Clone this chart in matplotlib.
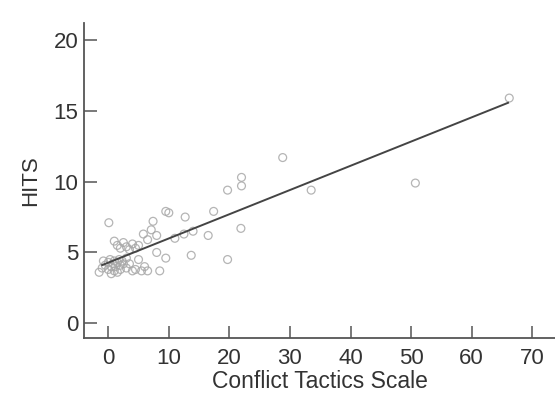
import matplotlib
matplotlib.use("Agg")
import matplotlib.pyplot as plt
import numpy as np

# Data
cts = [-1.5, -1, -0.5, 0, 0, 0.3, 0.5, 0.8, 1, 1, 1.2, 1.5, 1.8, 2, 2, 2.3, 2.5, 0.5, 1.5, -0.8,
       3, 3.5, 4, 4.5, 5.5, 6, 6.5, 8.5, 3, 5,
       1, 1.5, 2, 2.5, 3, 3.5, 4, 4.5, 5,
       0.1, 5.8, 7.1, 7.4, 8, 9.5, 10, 12.7, 12.5, 11, 14, 16.5, 17.4, 21.9, 13.7, 9.5, 19.7,
       19.7, 22, 22, 28.8, 33.5, 50.7, 66.2, 6.5, 8]
hits = [3.6, 3.9, 4.1, 4.3, 3.8, 4.5, 4.0, 4.2, 4.4, 3.7, 4.0, 4.3, 4.5, 4.1, 3.8, 4.4, 4.2, 3.5, 3.6, 4.4,
        3.9, 4.2, 3.7, 3.8, 3.7, 4.0, 3.7, 3.7, 4.6, 4.5,
        5.8, 5.5, 5.3, 5.7, 5.4, 5.2, 5.6, 5.3, 5.5,
        7.1, 6.3, 6.6, 7.2, 6.2, 7.9, 7.8, 7.5, 6.3, 6.0, 6.5, 6.2, 7.9, 6.7, 4.8, 4.6, 4.5,
        9.4, 9.7, 10.3, 11.7, 9.4, 9.9, 15.9, 5.9, 5.0]
fit_intercept = 4.28
fit_slope = 0.171
fit_range = [-1, 66]

xticks = [0, 10, 20, 30, 40, 50, 60, 70]
yticks = [0, 5, 10, 15, 20]

plt.rcParams['font.family'] = ['Liberation Sans', 'DejaVu Sans']
txt = '#333333'
spc = '#555555'

fig = plt.figure(figsize=(5.55, 4.01), dpi=100)
ax = fig.add_axes([84/555, 62.7/401, 471/555, 315.3/401])

ax.scatter(cts, hits, s=32, facecolors='none', edgecolors='#a8a8a8', linewidths=0.9, alpha=0.85, zorder=2)
fx = np.array(fit_range, dtype=float)
ax.plot(fx, fit_intercept + fit_slope * fx, color='#444444', lw=1.4, zorder=3)

ax.set_xlim(-4.0, 73.75)
ax.set_ylim(-1.06, 21.2)
ax.set_xticks(xticks)
ax.set_yticks(yticks)
for s in ['top', 'right']:
    ax.spines[s].set_visible(False)
for s in ['left', 'bottom']:
    ax.spines[s].set_color(spc)
    ax.spines[s].set_linewidth(1.3)
ax.tick_params(axis='both', direction='in', length=9, width=1.1, color=spc,
               labelsize=16, labelcolor=txt)
ax.tick_params(axis='x', pad=7)
ax.tick_params(axis='y', pad=4)
ax.set_xlabel('Conflict Tactics Scale', fontsize=16.5, color=txt, labelpad=1)
ax.set_ylabel('HITS', fontsize=16, color=txt, labelpad=9)

fig.savefig('out.png', dpi=100)
